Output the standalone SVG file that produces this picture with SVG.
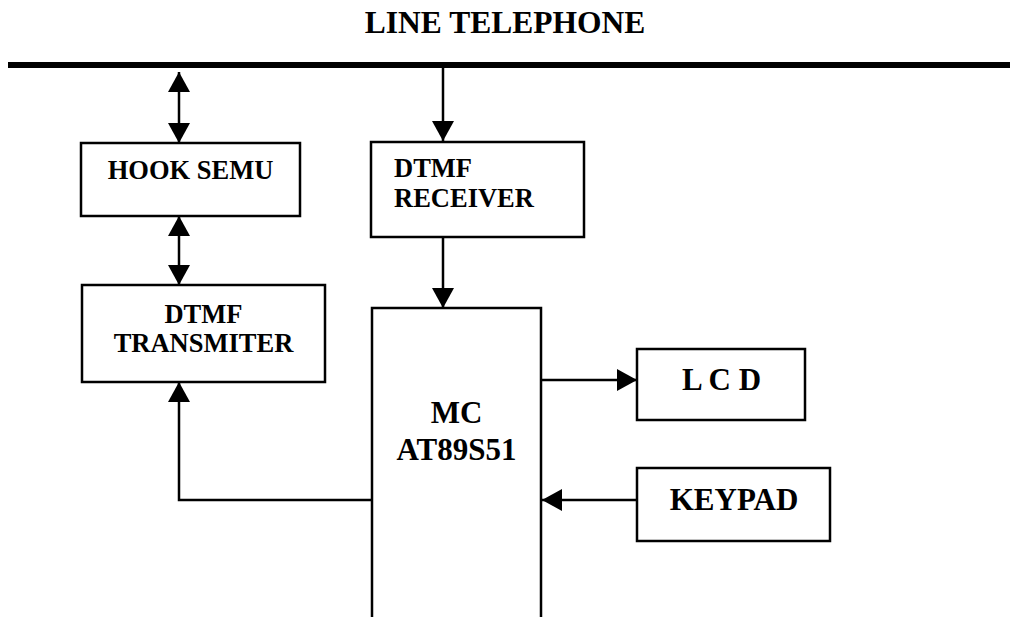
<svg xmlns="http://www.w3.org/2000/svg" width="1010" height="617" viewBox="0 0 1010 617">
<defs>
<marker id="ah" viewBox="0 0 20 22" refX="20" refY="11" markerWidth="20" markerHeight="22" markerUnits="userSpaceOnUse" orient="auto-start-reverse">
<path d="M0,0 L20,11 L0,22 Z" fill="#000"/>
</marker>
<style>
.box{fill:#fff;stroke:#000;stroke-width:2.5}
.t{font-family:"Liberation Serif","Times New Roman",serif;font-weight:bold;fill:#000}
.c{stroke:#000;stroke-width:2.5;fill:none}
</style>
</defs>
<rect width="1010" height="617" fill="#fff"/>
<text class="t" x="505" y="33" font-size="31.5" text-anchor="middle">LINE TELEPHONE</text>
<line x1="8" y1="65" x2="1010" y2="65" stroke="#000" stroke-width="6"/>
<g id="connectors">
<line class="c" x1="179" y1="72" x2="179" y2="143" marker-start="url(#ah)" marker-end="url(#ah)"/>
<line class="c" x1="443" y1="68" x2="443" y2="141" marker-end="url(#ah)"/>
<line class="c" x1="179" y1="216" x2="179" y2="285" marker-start="url(#ah)" marker-end="url(#ah)"/>
<line class="c" x1="443" y1="237" x2="443" y2="308" marker-end="url(#ah)"/>
<polyline class="c" points="372,500 179,500 179,382" marker-end="url(#ah)"/>
<line class="c" x1="541" y1="380" x2="637" y2="380" marker-end="url(#ah)"/>
<line class="c" x1="637" y1="500" x2="542" y2="500" marker-end="url(#ah)"/>
</g>
<g id="hook">
<rect class="box" x="81" y="143" width="219" height="73"/>
<text class="t" x="190.5" y="179" font-size="26.5" text-anchor="middle">HOOK SEMU</text>
</g>
<g id="receiver">
<rect class="box" x="371" y="142" width="213" height="95"/>
<text class="t" x="394" y="177" font-size="26.5">DTMF</text>
<text class="t" x="394" y="207" font-size="26.5">RECEIVER</text>
</g>
<g id="transmitter">
<rect class="box" x="82" y="285" width="243" height="97"/>
<text class="t" x="203.5" y="323" font-size="26.5" text-anchor="middle">DTMF</text>
<text class="t" x="203.5" y="352" font-size="26.5" text-anchor="middle">TRANSMITER</text>
</g>
<g id="mc">
<rect class="box" x="372" y="308" width="169" height="330"/>
<text class="t" x="456.5" y="423" font-size="31" text-anchor="middle">MC</text>
<text class="t" x="456.5" y="460" font-size="31" text-anchor="middle">AT89S51</text>
</g>
<g id="lcd">
<rect class="box" x="637" y="349" width="168" height="71"/>
<text class="t" x="721.5" y="390" font-size="31" text-anchor="middle">L C D</text>
</g>
<g id="keypad">
<rect class="box" x="637" y="468" width="193" height="73"/>
<text class="t" x="734" y="510" font-size="31" text-anchor="middle">KEYPAD</text>
</g>
</svg>
